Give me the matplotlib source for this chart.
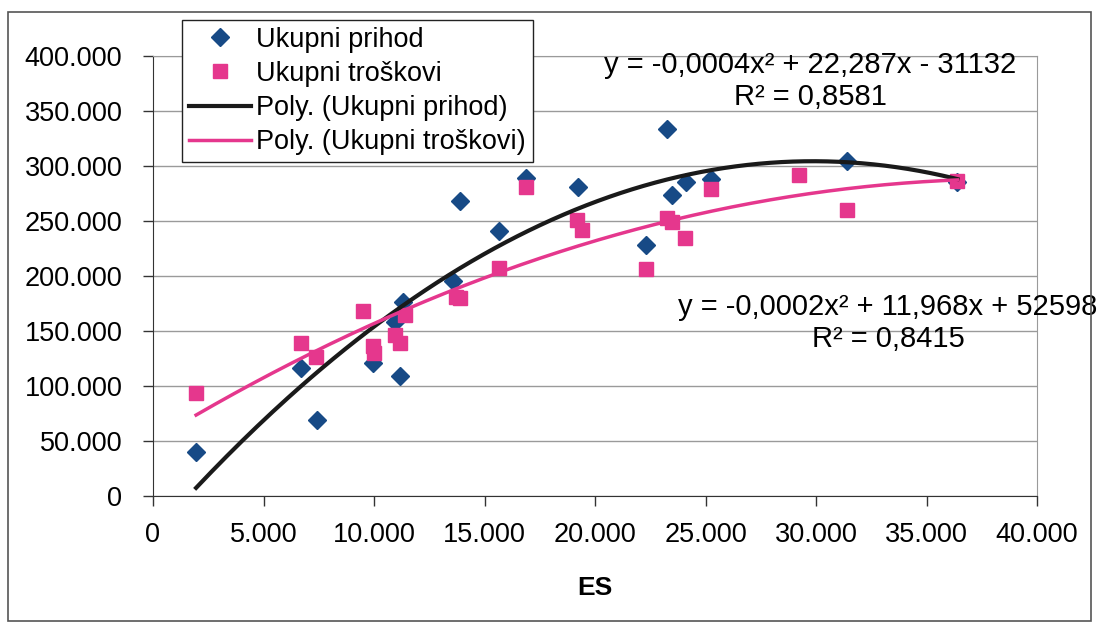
import numpy as np
import matplotlib
matplotlib.use('Agg')
import matplotlib.pyplot as plt
from matplotlib.patches import Rectangle
from matplotlib.ticker import FuncFormatter

plt.rcParams['font.family'] = ['Liberation Sans', 'DejaVu Sans']

# Ukupni prihod (diamonds)
prihod_x = [1950, 6700, 7400, 9970, 10950, 11180, 11300, 13590, 13900, 15670,
            16900, 19250, 22300, 23270, 23470, 24120, 25250, 31420, 36400]
prihod_y = [40300, 116000, 69000, 121000, 158000, 109000, 176600, 195700, 268500, 241000,
            288800, 280600, 228000, 333300, 273600, 285700, 287900, 304800, 285700]

# Ukupni troskovi (squares)
troskovi_x = [1950, 6700, 7360, 9520, 9970, 10000, 10950, 11180, 11400, 13700, 13900, 15670,
              16900, 19170, 19400, 22300, 23240, 23470, 24070, 25250, 29250, 31390, 36400]
troskovi_y = [93900, 139000, 126700, 168500, 136000, 130000, 146000, 139000, 164500, 181000,
              180000, 207000, 280600, 251000, 242000, 206000, 252400, 249400, 234300, 278800,
              291800, 260000, 286000]

eq_prihod = 'y = -0,0004x² + 22,287x - 31132\nR² = 0,8581'
eq_troskovi = 'y = -0,0002x² + 11,968x + 52598\nR² = 0,8415'

fig = plt.figure(figsize=(10.98, 6.25), dpi=100)
ax = fig.add_axes([153/1098, 1-496/625, (1037-153)/1098, 440/625])

blue = '#174a86'
pink = '#e5378d'

ax.plot(prihod_x, prihod_y, 'D', color=blue, markersize=9, label='Ukupni prihod', zorder=3)
ax.plot(troskovi_x, troskovi_y, 's', color=pink, markersize=10, label='Ukupni troškovi', zorder=4)

# polynomial trend lines (order 2) like Excel
p1 = np.polyfit(prihod_x, prihod_y, 2)
p2 = np.polyfit(troskovi_x, troskovi_y, 2)
xx1 = np.linspace(min(prihod_x), max(prihod_x), 200)
xx2 = np.linspace(min(troskovi_x), max(troskovi_x), 200)
ax.plot(xx1, np.polyval(p1, xx1), color='#1a1a1a', lw=3, label='Poly. (Ukupni prihod)', zorder=5)
ax.plot(xx2, np.polyval(p2, xx2), color=pink, lw=2.5, label='Poly. (Ukupni troškovi)', zorder=5)

ax.set_xlim(0, 40000)
ax.set_ylim(0, 400000)
ax.set_xticks(np.arange(0, 40001, 5000))
ax.set_yticks(np.arange(0, 400001, 50000))
dots = FuncFormatter(lambda v, p: f'{int(v):,}'.replace(',', '.'))
ax.xaxis.set_major_formatter(dots)
ax.yaxis.set_major_formatter(dots)
ax.tick_params(labelsize=19.5, length=7, width=1, color='#333333')
ax.tick_params(axis='y', pad=15)
ax.tick_params(axis='x', pad=12)
ax.grid(axis='y', color='#9a9a9a', lw=1)
ax.set_axisbelow(True)
for s in ['top', 'right']:
    ax.spines[s].set_color('#9a9a9a')
for s in ['left', 'bottom']:
    ax.spines[s].set_color('#333333')
ax.set_xlabel('ES', fontsize=19, fontweight='bold', labelpad=20)

ax.text(810/1098, 1-81/625, eq_prihod, transform=fig.transFigure, ha='center', va='center',
        fontsize=21, linespacing=1.15, zorder=6)
ax.text(888/1098, 1-323/625, eq_troskovi, transform=fig.transFigure, ha='center', va='center',
        fontsize=21, linespacing=1.15, zorder=6)

leg = ax.legend(loc='upper left', bbox_to_anchor=(182/1098, 1-20/625),
                bbox_transform=fig.transFigure, borderaxespad=0, fancybox=False,
                edgecolor='#222222', framealpha=1, fontsize=19.5, handlelength=2.3,
                handletextpad=0.2, labelspacing=0.3, borderpad=0.25)
leg.get_frame().set_linewidth(1)
leg.set_zorder(10)

fig.patches.append(Rectangle((8/1098, 4/625), 1083/1098, 609/625, transform=fig.transFigure,
                             fill=False, edgecolor='#555555', lw=1.2))

fig.savefig('out.png', dpi=100)
